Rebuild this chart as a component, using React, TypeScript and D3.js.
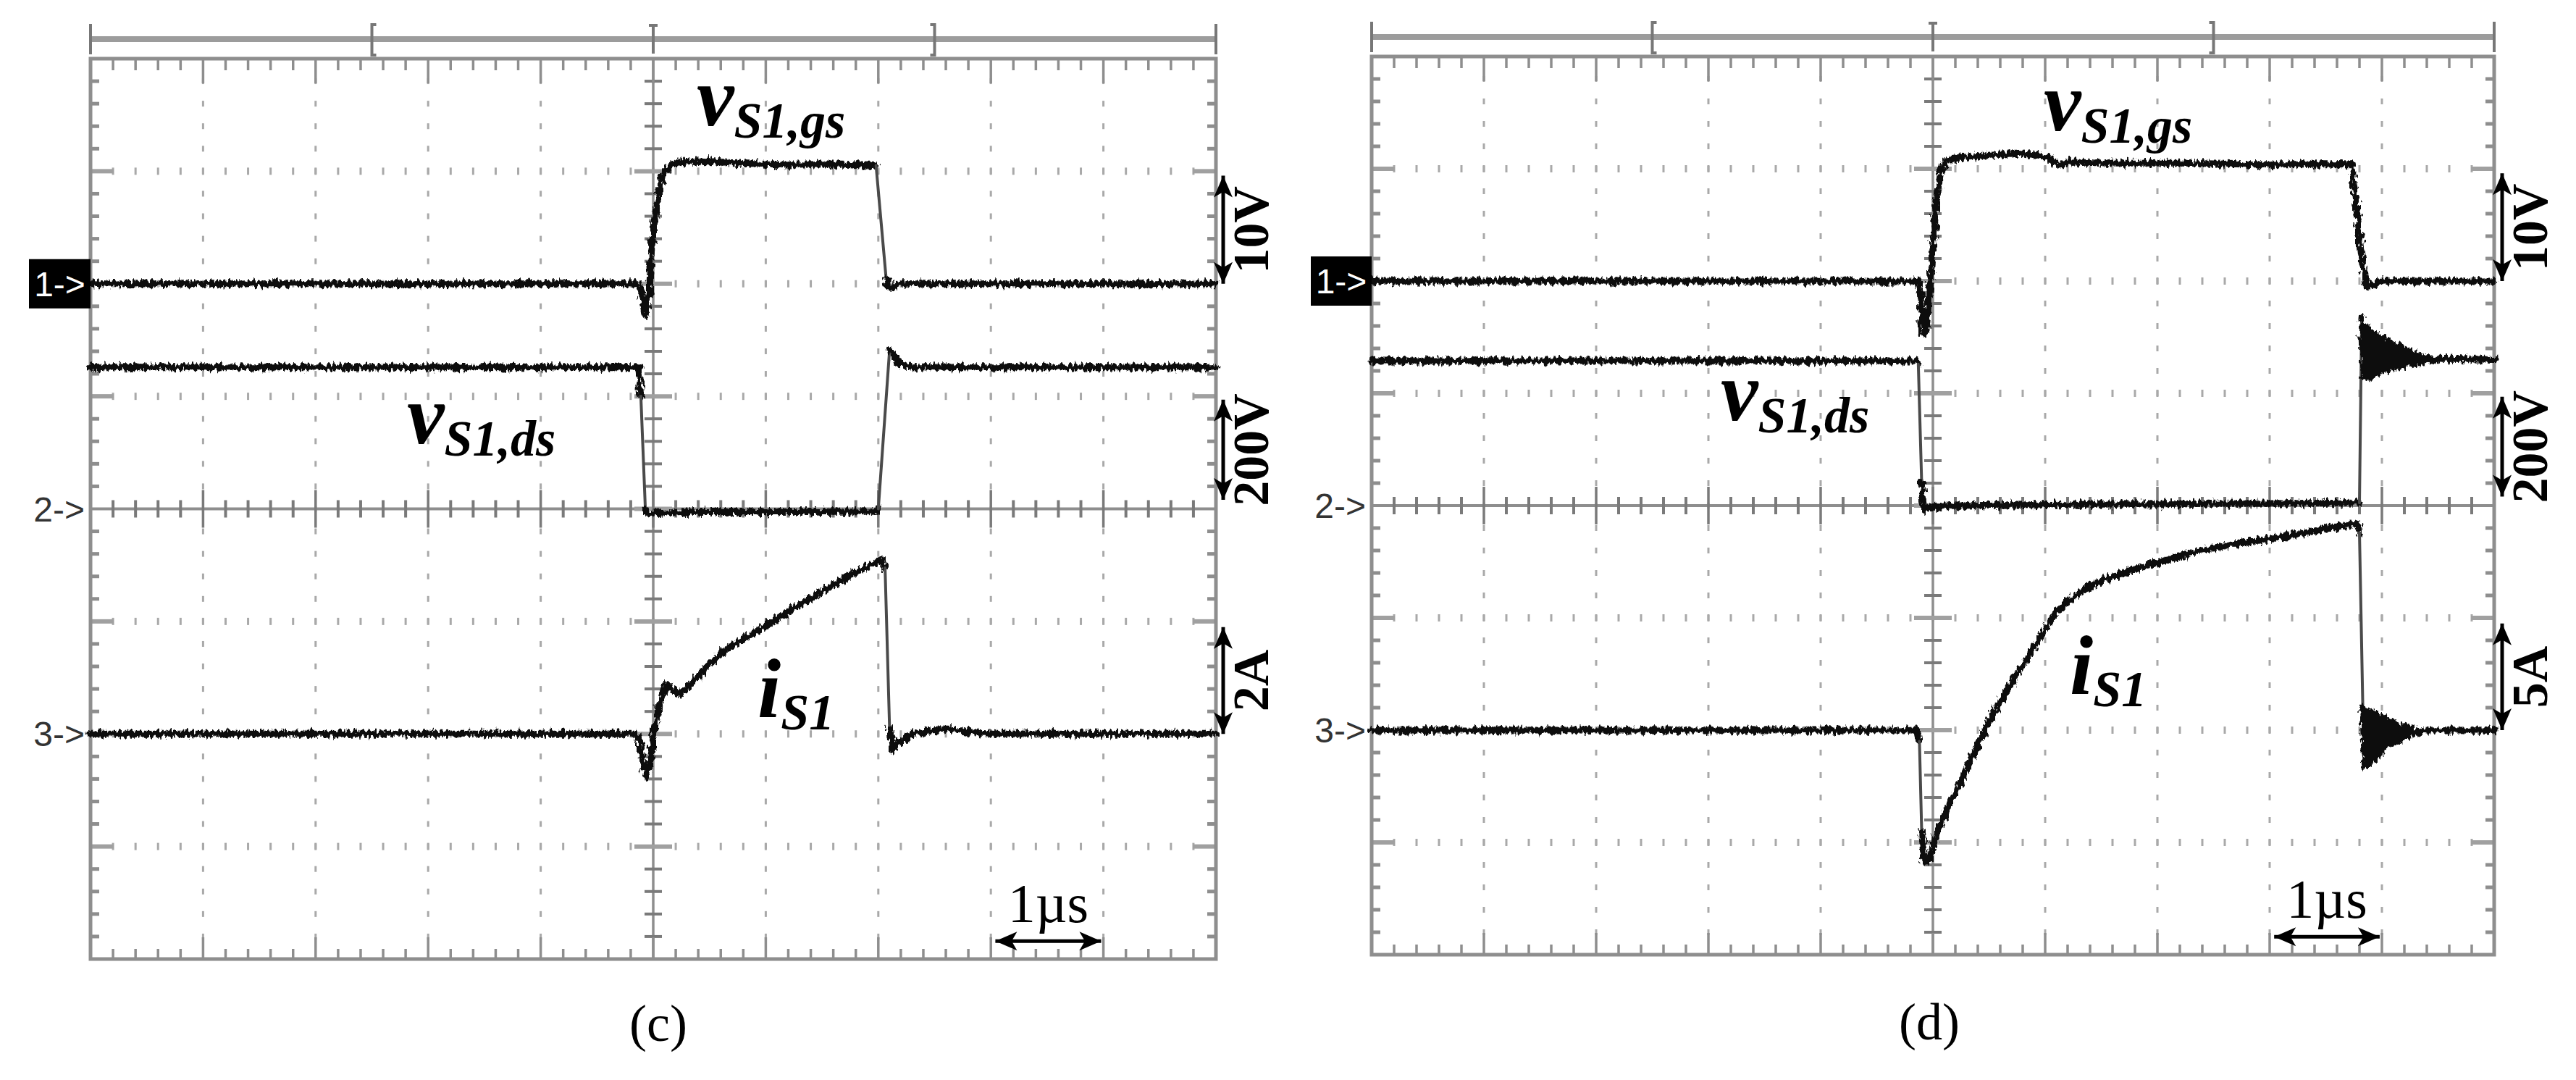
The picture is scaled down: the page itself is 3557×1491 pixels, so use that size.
import React from 'react';
import * as d3 from 'd3';

const W = 3557;
const H = 1491;

type Pt = [number, number];

// ---------- data (time in µs, values in V / A) ----------
const timeSpanUs: [number, number] = [0, 10];
const divisionsX = 10;
const divisionsY = 8;
const channelMarkers = ['1->', '2->', '3->'];
const channelRefDiv = [2, 4, 6];

const perDivC = [10, 200, 2];
const perDivD = [10, 200, 5];
const scaleTextC = ['10V', '200V', '2A'];
const scaleTextD = ['10V', '200V', '5A'];
const timeLabel = '1µs';
const captions = ['(c)', '(d)'];
const gateLabel = ['v', 'S1,gs'];
const drainLabel = ['v', 'S1,ds'];
const currentLabel = ['i', 'S1'];

const gateC: Pt[] = [
  [0, 0], [4.87, 0], [4.9, -1], [4.93, -2.8], [4.96, -1.2], [4.99, 3.7], [5.04, 7.5],
  [5.08, 9.6], [5.14, 10.4], [5.22, 10.8], [5.5, 10.9], [5.8, 10.7], [6.2, 10.6],
  [6.6, 10.6], [6.98, 10.5], [7.07, 0.4], [7.1, -0.4], [7.2, 0], [10, 0],
];
const drainC: Pt[] = [
  [0, 252], [4.87, 252], [4.89, 200], [4.93, 0], [4.96, -12], [5.0, -8], [5.3, -5],
  [6, -5], [6.5, -5], [6.99, -4], [7.0, 0], [7.1, 282], [7.14, 272], [7.2, 256],
  [7.3, 252], [10, 252],
];
const currentC: Pt[] = [
  [0, 0], [4.85, 0], [4.88, -0.15], [4.91, -0.5], [4.94, -0.75], [4.97, -0.55],
  [5.01, 0.1], [5.07, 0.62], [5.12, 0.88], [5.17, 0.8], [5.23, 0.7], [5.3, 0.82],
  [5.45, 1.14], [5.64, 1.5], [6.0, 1.92], [6.37, 2.38], [6.75, 2.82], [7.03, 3.1],
  [7.06, 2.95], [7.1, 0.1], [7.13, -0.28], [7.18, -0.15], [7.3, 0], [7.6, 0.1],
  [7.75, 0.05], [8, 0], [10, 0],
];

const gateD: Pt[] = [
  [0, 0], [4.87, 0], [4.89, -1.5], [4.91, -4.8], [4.94, -4.5], [4.97, -1], [5.0, 3],
  [5.03, 7], [5.07, 9.8], [5.12, 10.8], [5.25, 11.0], [5.5, 11.2], [5.75, 11.4],
  [5.95, 11.2], [6.05, 10.9], [6.12, 10.3], [6.2, 10.6], [6.6, 10.5], [7.2, 10.5],
  [7.8, 10.4], [8.4, 10.4], [8.73, 10.4], [8.77, 7], [8.82, 2], [8.86, -0.5],
  [8.9, -0.4], [9.0, 0], [10, 0],
];
const drainD: Pt[] = [
  [0, 258], [4.86, 258], [4.87, 252], [4.9, 40], [4.92, -8], [4.96, -4], [5.2, 0],
  [6, 2], [7, 3], [8, 4], [8.78, 5], [8.8, 5], [8.82, 335], [8.84, 232], [8.86, 320],
  [8.88, 228], [8.9, 312], [8.92, 232], [8.94, 305], [8.96, 236], [8.98, 300],
  [9.0, 240], [9.02, 296], [9.04, 243], [9.06, 292], [9.08, 245], [9.1, 288],
  [9.12, 247], [9.14, 284], [9.16, 248], [9.18, 280], [9.2, 250], [9.22, 277],
  [9.24, 251], [9.26, 274], [9.28, 252], [9.3, 271], [9.32, 253], [9.34, 268],
  [9.37, 255], [9.4, 264], [9.45, 257], [9.5, 262], [10, 260],
];
const currentD: Pt[] = [
  [0, 0], [4.86, 0], [4.88, -0.5], [4.9, -4.5], [4.92, -5.8], [4.95, -5.9],
  [4.99, -5.4], [5.03, -4.6], [5.15, -3.3], [5.34, -1.3], [5.54, 0.8], [5.74, 2.4],
  [5.94, 4.0], [6.1, 5.3], [6.15, 5.5], [6.33, 6.2], [6.52, 6.7], [6.92, 7.35],
  [7.31, 7.9], [7.7, 8.3], [8.1, 8.6], [8.49, 8.95], [8.78, 9.2], [8.8, 8.8],
  [8.83, 1.0], [8.85, -1.6], [8.87, 0.9], [8.89, -1.5], [8.91, 0.8], [8.93, -1.3],
  [8.95, 0.7], [8.97, -1.1], [8.99, 0.6], [9.01, -0.9], [9.03, 0.5], [9.05, -0.7],
  [9.07, 0.4], [9.09, -0.6], [9.11, 0.3], [9.13, -0.5], [9.15, 0.25], [9.18, -0.4],
  [9.21, 0.2], [9.24, -0.3], [9.27, 0.1], [9.3, -0.15], [9.4, 0], [10, 0],
];

// scale-arrow spans (in divisions from the top) and record-bar marks
const scaleArrowSpans: Pt[] = [[1.04, 2.0], [3.03, 3.92], [5.05, 6.0]];
const timeArrowSpan: Pt = [8.04, 8.98];
const recordMarks = ['|', '[', 'T', ']', '|'];

// ---------- layout ----------
const layouts = [
  {
    left: 125, right: 1679, top: 81, bottom: 1324, badgeLeft: 40,
    gateAt: [962, 173], drainAt: [562, 612], curAt: [1046, 990],
    captionX: 909, captionY: 1437, arrowX: 1689,
    perDiv: perDivC, scaleText: scaleTextC,
    traces: [gateC, drainC, currentC], caption: captions[0],
  },
  {
    left: 1894, right: 3444, top: 78, bottom: 1318, badgeLeft: 1810,
    gateAt: [2822, 180], drainAt: [2376, 580], curAt: [2858, 958],
    captionX: 2664, captionY: 1435, arrowX: 3455,
    perDiv: perDivD, scaleText: scaleTextD,
    traces: [gateD, drainD, currentD], caption: captions[1],
  },
];

const GRID = '#8e8e8e';
const DOT = '#a9a9a9';
const SERIF = "'Liberation Serif', 'Times New Roman', serif";
const NARROW = "'Liberation Sans Narrow', 'Liberation Sans', Arial, sans-serif";

function splitSegments(px: number[][]) {
  const groups: { thin: boolean; pts: number[][] }[] = [];
  for (let i = 1; i < px.length; i++) {
    const dx = Math.abs(px[i][0] - px[i - 1][0]);
    const dy = Math.abs(px[i][1] - px[i - 1][1]);
    const thin = dy > 90 && dy > 5 * dx;
    const last = groups[groups.length - 1];
    if (last && last.thin === thin) last.pts.push(px[i]);
    else groups.push({ thin, pts: [px[i - 1], px[i]] });
  }
  return groups;
}

function Arrow({ x1, y1, x2, y2 }: { x1: number; y1: number; x2: number; y2: number }) {
  const L = 30, Hh = 13;
  const ang = Math.atan2(y2 - y1, x2 - x1);
  const head = (x: number, y: number, a: number) => {
    const bx = x - L * Math.cos(a), by = y - L * Math.sin(a);
    const px = -Math.sin(a) * Hh, py = Math.cos(a) * Hh;
    return `M${x},${y}L${bx + px},${by + py}L${bx + L * 0.25 * Math.cos(a)},${by + L * 0.25 * Math.sin(a)}L${bx - px},${by - py}Z`;
  };
  return (
    <g>
      <line x1={x1} y1={y1} x2={x2} y2={y2} stroke="#000" strokeWidth={5} />
      <path d={head(x2, y2, ang)} fill="#000" />
      <path d={head(x1, y1, ang + Math.PI)} fill="#000" />
    </g>
  );
}

function Panel({ p }: { p: typeof layouts[number] }) {
  const x = d3.scaleLinear().domain(timeSpanUs).range([p.left, p.right]);
  const yd = d3.scaleLinear().domain([0, divisionsY]).range([p.top, p.bottom]);
  const line = d3.line();
  const minorX = d3.range(1, divisionsX * 5);
  const minorY = d3.range(1, divisionsY * 5);
  const cx = x((timeSpanUs[0] + timeSpanUs[1]) / 2);
  const cy = yd(divisionsY / 2);
  const els: React.ReactNode[] = [];

  // dotted vertical grid lines
  d3.range(1, divisionsX).forEach((k) => {
    if (k === divisionsX / 2) return;
    const gx = x(k);
    minorY.forEach((j) => {
      els.push(<rect key={`dv${k}-${j}`} x={gx - 1.5} y={yd(j / 5) - 4} width={3} height={8} fill={DOT} />);
    });
  });
  // dotted horizontal grid lines
  d3.range(1, divisionsY).forEach((m) => {
    if (m === divisionsY / 2) return;
    const gy = yd(m);
    minorX.forEach((j) => {
      els.push(<rect key={`dh${m}-${j}`} x={x(j / 5) - 1.5} y={gy - 5} width={3} height={10} fill={DOT} />);
    });
    els.push(<rect key={`bl${m}`} x={p.left} y={gy - 3} width={32} height={6} fill="#a0a0a0" />);
    els.push(<rect key={`br${m}`} x={p.right - 32} y={gy - 3} width={32} height={6} fill="#a0a0a0" />);
  });
  // centre axes
  els.push(<line key="cax" x1={cx} y1={p.top} x2={cx} y2={p.bottom} stroke={GRID} strokeWidth={3.5} />);
  els.push(<line key="cay" x1={p.left} y1={cy} x2={p.right} y2={cy} stroke={GRID} strokeWidth={4} />);
  minorY.forEach((j) => {
    const major = j % 5 === 0;
    const len = major ? 26 : 12;
    els.push(<line key={`ct${j}`} x1={cx - len} x2={cx + len} y1={yd(j / 5)} y2={yd(j / 5)} stroke={major ? '#a0a0a0' : '#7a7a7a'} strokeWidth={major ? 6 : 4} />);
  });
  minorX.forEach((j) => {
    const major = j % 5 === 0;
    const len = major ? 26 : 12;
    els.push(<line key={`ch${j}`} x1={x(j / 5)} x2={x(j / 5)} y1={cy - len} y2={cy + len} stroke="#7a7a7a" strokeWidth={major ? 3.5 : 4} />);
  });
  // border ticks
  minorX.forEach((j) => {
    const major = j % 5 === 0;
    els.push(<line key={`tt${j}`} x1={x(j / 5)} x2={x(j / 5)} y1={p.top} y2={p.top + (major ? 34 : 16)} stroke={GRID} strokeWidth={3.5} />);
    els.push(<line key={`bt${j}`} x1={x(j / 5)} x2={x(j / 5)} y1={p.bottom} y2={p.bottom - (major ? 30 : 14)} stroke={GRID} strokeWidth={3.5} />);
  });
  minorY.forEach((j) => {
    if (j % 5 === 0) return;
    els.push(<line key={`lt${j}`} x1={p.left} x2={p.left + 12} y1={yd(j / 5)} y2={yd(j / 5)} stroke={GRID} strokeWidth={5} />);
    els.push(<line key={`rt${j}`} x1={p.right} x2={p.right - 12} y1={yd(j / 5)} y2={yd(j / 5)} stroke={GRID} strokeWidth={5} />);
  });
  els.push(<rect key="frame" x={p.left} y={p.top} width={p.right - p.left} height={p.bottom - p.top} fill="none" stroke={GRID} strokeWidth={5} />);

  // record bar
  const by = p.top - 27;
  els.push(<line key="rb" x1={p.left} x2={p.right} y1={by} y2={by} stroke="#9c9c9c" strokeWidth={8} />);
  recordMarks.forEach((m, i) => {
    const mx = p.left + ((p.right - p.left) * i) / (recordMarks.length - 1);
    let d = '';
    if (m === '|') d = `M${mx},${by - 21}V${by + 21}`;
    if (m === '[') d = `M${mx + 6},${by - 20}H${mx}V${by + 22}H${mx + 6}`;
    if (m === ']') d = `M${mx - 6},${by - 20}H${mx}V${by + 22}H${mx - 6}`;
    if (m === 'T') d = `M${mx - 6},${by - 19}H${mx + 6}M${mx},${by - 19}V${by + 20}`;
    els.push(<path key={`rm${i}`} d={d} fill="none" stroke="#777" strokeWidth={4} />);
  });

  // traces
  p.traces.forEach((tr, c) => {
    const ref = channelRefDiv[c];
    const vpd = p.perDiv[c];
    const y = d3.scaleLinear().domain([ref * vpd, -(divisionsY - ref) * vpd]).range([p.top, p.bottom]);
    const px = tr.map(([t, v]) => [x(t), y(v)] as [number, number]);
    splitSegments(px).forEach((g, gi) => {
      els.push(
        <path key={`tr${c}-${gi}`} d={line(g.pts as [number, number][]) || ''} fill="none"
          stroke={g.thin ? '#4a4a4a' : '#0a0a0a'} strokeWidth={g.thin ? 4 : 9}
          strokeLinejoin="round" strokeLinecap="round" filter={g.thin ? undefined : 'url(#noise)'} />
      );
    });
  });

  // channel markers
  channelMarkers.forEach((m, c) => {
    const gy = yd(channelRefDiv[c]);
    if (c === 0) {
      els.push(<rect key="badge" x={p.badgeLeft} y={gy - 34} width={p.left - p.badgeLeft} height={68} fill="#000" />);
      els.push(<text key={`cm${c}`} x={(p.badgeLeft + p.left) / 2} y={gy + 17} fill="#fff" fontFamily={NARROW} fontSize={48} textAnchor="middle">{m}</text>);
    } else {
      els.push(<text key={`cm${c}`} x={p.left - 8} y={gy + 17} fill="#333" fontFamily={NARROW} fontSize={48} textAnchor="end">{m}</text>);
    }
  });

  // scale arrows with rotated labels
  scaleArrowSpans.forEach(([a, b], c) => {
    const y1 = yd(a), y2 = yd(b);
    els.push(<Arrow key={`sa${c}`} x1={p.arrowX} y1={y1} x2={p.arrowX} y2={y2} />);
    const tx = p.arrowX + 62, ty = (y1 + y2) / 2;
    els.push(
      <text key={`st${c}`} transform={`translate(${tx},${ty}) rotate(-90)`} textAnchor="middle"
        fontFamily={SERIF} fontWeight="bold" fontSize={70} fill="#000">{p.scaleText[c]}</text>
    );
  });

  // time scale arrow
  const ta1 = x(timeArrowSpan[0]), ta2 = x(timeArrowSpan[1]);
  els.push(<Arrow key="ta" x1={ta1} y1={yd(7.84)} x2={ta2} y2={yd(7.84)} />);
  els.push(<text key="tl" x={(ta1 + ta2) / 2} y={yd(7.67)} textAnchor="middle" fontFamily={SERIF} fontSize={76} fill="#000">{timeLabel}</text>);

  // trace labels
  const label = (key: string, at: number[], main: string, sub: string) => (
    <text key={key} x={at[0]} y={at[1]} fontFamily={SERIF} fontStyle="italic" fontWeight="bold" fontSize={116} fill="#000">
      {main}
      <tspan fontSize={70} dy={17}>{sub}</tspan>
    </text>
  );
  els.push(label('lg', p.gateAt, gateLabel[0], gateLabel[1]));
  els.push(label('ld', p.drainAt, drainLabel[0], drainLabel[1]));
  els.push(label('li', p.curAt, currentLabel[0], currentLabel[1]));

  els.push(<text key="cap" x={p.captionX} y={p.captionY} textAnchor="middle" fontFamily={SERIF} fontSize={72} fill="#000">{p.caption}</text>);

  return <g>{els}</g>;
}

export default function App() {
  return (
    <svg width={W} height={H} viewBox={`0 0 ${W} ${H}`} style={{ position: 'absolute', left: 0, top: 0, background: '#fff' }}>
      <defs>
        <filter id="noise" filterUnits="userSpaceOnUse" x={0} y={0} width={W} height={H}>
          <feTurbulence type="fractalNoise" baseFrequency="0.25 0.1" numOctaves={3} seed={7} result="t" />
          <feDisplacementMap in="SourceGraphic" in2="t" scale={13} xChannelSelector="R" yChannelSelector="G" />
        </filter>
      </defs>
      <rect x={0} y={0} width={W} height={H} fill="#fff" />
      {layouts.map((p, i) => <Panel key={i} p={p} />)}
    </svg>
  );
}
